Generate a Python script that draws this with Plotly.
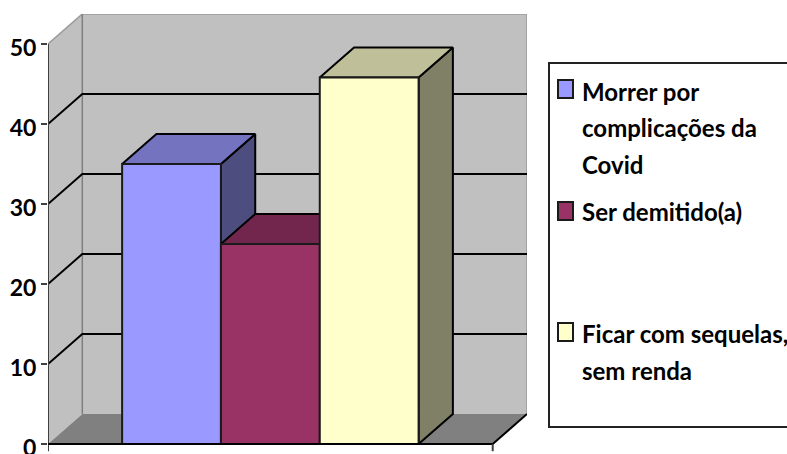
import plotly.graph_objects as go

# Survey results, in percent
series_names = ["Morrer por complicações da Covid", "Ser demitido(a)", "Ficar com sequelas, sem renda"]
series_values = [35, 25, 45.8]
front_colors = ["#9999FF", "#993366", "#FFFFCC"]
top_colors = ["#7373BF", "#73264D", "#BFBF99"]
side_colors = ["#4D4D80", "#4D1A33", "#808066"]

y_ticks = [0, 10, 20, 30, 40, 50]
legend_lines = [
    ["Morrer por", "complicações da", "Covid"],
    ["Ser demitido(a)"],
    ["Ficar com sequelas,", "sem renda"],
]

WIDTH, HEIGHT = 787, 454
PLOT_L, PLOT_R, PLOT_T, PLOT_B = 48, 527, 14, 454
ZERO_PX = 444  # pixel row of the axis zero
PX_PER_UNIT_Y = 8.0

# Oblique projection: the depth of the chart box, in axis units
BAR_W = 1.0
GAP = 0.75
DEPTH_X = 0.347
DEPTH_Y = 3.75
X_SPAN = GAP * 2 + BAR_W * len(series_values)
Y_TOP = 50

fig = go.Figure()


def polygon(xs, ys, fill, line="rgba(0,0,0,0)", width=0):
    fig.add_trace(go.Scatter(
        x=xs + xs[:1], y=ys + ys[:1], mode="lines", fill="toself", fillcolor=fill,
        line=dict(color=line, width=width), hoverinfo="skip", showlegend=False,
        cliponaxis=False,
    ))


def segment(xs, ys, color, width):
    fig.add_trace(go.Scatter(
        x=xs, y=ys, mode="lines", line=dict(color=color, width=width),
        hoverinfo="skip", showlegend=False, cliponaxis=False,
    ))


# Walls and floor of the chart box
polygon([0, DEPTH_X, DEPTH_X, 0], [0, DEPTH_Y, Y_TOP + DEPTH_Y, Y_TOP], "#C0C0C0")
polygon([DEPTH_X, X_SPAN + DEPTH_X, X_SPAN + DEPTH_X, DEPTH_X],
        [DEPTH_Y, DEPTH_Y, Y_TOP + DEPTH_Y, Y_TOP + DEPTH_Y], "#C0C0C0")
polygon([0, X_SPAN, X_SPAN + DEPTH_X, DEPTH_X], [0, 0, DEPTH_Y, DEPTH_Y], "#808080")

# Wall outlines
segment([0, DEPTH_X, X_SPAN + DEPTH_X, X_SPAN + DEPTH_X],
        [Y_TOP, Y_TOP + DEPTH_Y, Y_TOP + DEPTH_Y, DEPTH_Y], "#999999", 1.5)
segment([DEPTH_X, DEPTH_X], [DEPTH_Y, Y_TOP + DEPTH_Y], "#808080", 1.5)

# Gridlines running along both walls
for tick in y_ticks[1:-1]:
    segment([0, DEPTH_X, X_SPAN + DEPTH_X], [tick, tick + DEPTH_Y, tick + DEPTH_Y], "#000000", 2)

# Bars, left to right: side face, top face, then front face
for i, value in enumerate(series_values):
    x0 = GAP + i * BAR_W
    x1 = x0 + BAR_W
    polygon([x1, x1 + DEPTH_X, x1 + DEPTH_X, x1],
            [0, DEPTH_Y, value + DEPTH_Y, value], side_colors[i], "#000000", 2)
    polygon([x0, x1, x1 + DEPTH_X, x0 + DEPTH_X],
            [value, value, value + DEPTH_Y, value + DEPTH_Y], top_colors[i], "#000000", 2)
    polygon([x0, x1, x1, x0], [0, 0, value, value], front_colors[i], "#1A1A1A", 2)

# Axis lines and the two end ticks below the floor
segment([0, 0], [-0.9, Y_TOP], "#404040", 2)
segment([0, X_SPAN], [0, 0], "#000000", 2)
segment([X_SPAN, X_SPAN], [-0.9, 0], "#404040", 2)
segment([X_SPAN, X_SPAN + DEPTH_X], [0, DEPTH_Y], "#000000", 2)

legend_font = dict(family="Lato", size=24, color="#000000", weight=700)
tick_font = dict(family="Lato", size=23, color="#000000", weight=700)

fig.update_layout(
    width=WIDTH, height=HEIGHT, autosize=False,
    margin=dict(l=PLOT_L, r=WIDTH - PLOT_R, t=PLOT_T, b=HEIGHT - PLOT_B, pad=0, autoexpand=False),
    paper_bgcolor="#FFFFFF", plot_bgcolor="rgba(0,0,0,0)",
    showlegend=False,
    xaxis=dict(range=[0, X_SPAN + DEPTH_X], showgrid=False, zeroline=False, automargin=False,
               showticklabels=False, ticks="", showline=False, fixedrange=True),
    yaxis=dict(range=[(ZERO_PX - PLOT_B) / PX_PER_UNIT_Y, (ZERO_PX - PLOT_T) / PX_PER_UNIT_Y],
               tickvals=y_ticks, showgrid=False,
               zeroline=False, showline=False, ticks="outside", ticklen=6, tickwidth=2,
               tickcolor="#404040", tickfont=tick_font, ticklabelshift=4, ticklabelstandoff=0,
               ticklabeloverflow="allow", automargin=False, fixedrange=True),
)


def paper_x(px):
    return (px - PLOT_L) / (PLOT_R - PLOT_L)


def paper_y(py):
    return (PLOT_B - py) / (PLOT_B - PLOT_T)


# Legend frame; its right edge runs past the page
fig.add_shape(type="rect", xref="paper", yref="paper",
              x0=paper_x(549), x1=paper_x(800), y0=paper_y(427), y1=paper_y(63),
              line=dict(color="#222222", width=2), fillcolor="#FFFFFF", layer="above")

swatch_tops = [80, 202, 323]
line_centres = [[91, 128, 165], [212], [333, 370]]
for i, lines in enumerate(legend_lines):
    fig.add_shape(type="rect", xref="paper", yref="paper",
                  x0=paper_x(558), x1=paper_x(573),
                  y0=paper_y(swatch_tops[i] + 18), y1=paper_y(swatch_tops[i]),
                  line=dict(color="#1A1A1A", width=2), fillcolor=front_colors[i], layer="above")
    for text, centre in zip(lines, line_centres[i]):
        fig.add_annotation(xref="paper", yref="paper", x=paper_x(580), y=paper_y(centre),
                           text=text, showarrow=False, xanchor="left", yanchor="middle",
                           font=legend_font, align="left")

fig.write_html("out.html", config=dict(displayModeBar=False))
